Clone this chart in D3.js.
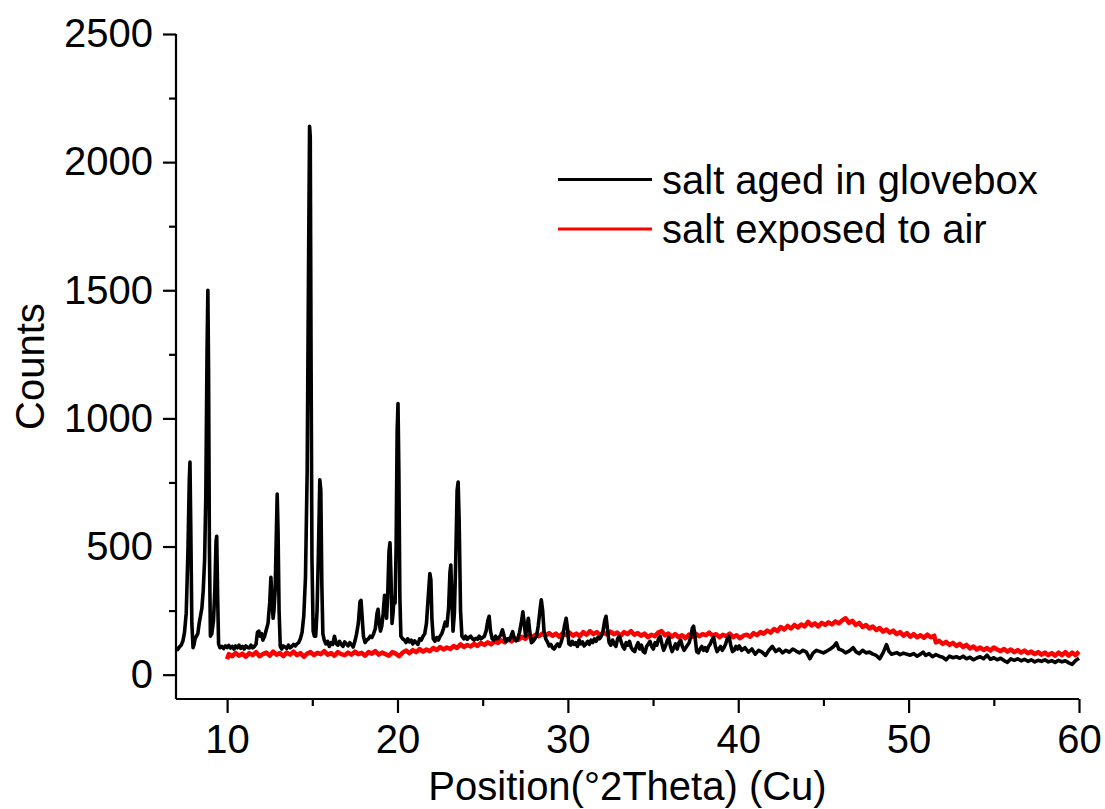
<!DOCTYPE html>
<html>
<head>
<meta charset="utf-8">
<script src="https://cdn.jsdelivr.net/npm/d3@7"></script>
<style>
  html, body { margin: 0; padding: 0; background: #fff; }
  svg { display: block; }
  text { font-family: "Liberation Sans", Arial, sans-serif; fill: #000; }
</style>
</head>
<body>
<svg id="chart" width="1105" height="809"></svg>
<script>
// ---------- data ----------
const xTicks = [10, 20, 30, 40, 50, 60];
const xMinorTicks = [15, 25, 35, 45, 55];
const yTicks = [0, 500, 1000, 1500, 2000, 2500];
const yMinorTicks = [250, 750, 1250, 1750, 2250];
const seriesNames = ["salt aged in glovebox", "salt exposed to air"];
const xLabel = "Position(°2Theta) (Cu)";
const yLabel = "Counts";

// salt aged in glovebox: [2Theta, counts]
const gloveboxData = [
[7.00,105],[7.10,98],[7.20,108],[7.30,115],[7.40,130],[7.50,165],[7.60,240],[7.70,480],[7.78,760],[7.82,830],[7.87,560],[7.93,200],
[8.00,105],[8.06,118],[8.12,140],[8.20,150],[8.28,160],[8.36,200],[8.44,230],[8.52,260],[8.60,330],[8.68,450],[8.75,700],[8.82,1250],
[8.87,1500],[8.91,1200],[8.96,500],[9.02,150],[9.10,160],[9.20,210],[9.28,330],[9.35,520],[9.39,540],[9.44,320],[9.50,120],[9.58,105],
[9.70,110],[9.80,102],[9.90,112],[10.00,106],[10.10,114],[10.20,104],[10.30,110],[10.40,100],[10.50,112],[10.60,105],[10.70,115],
[10.80,103],[10.90,110],[11.00,100],[11.10,112],[11.20,106],[11.30,104],[11.40,115],[11.50,105],[11.60,110],[11.70,120],[11.78,165],
[11.86,170],[11.94,150],[12.02,160],[12.10,135],[12.20,150],[12.30,175],[12.40,200],[12.50,280],[12.57,380],[12.63,300],[12.70,220],
[12.75,250],[12.82,330],[12.88,520],[12.94,705],[12.99,560],[13.05,250],[13.12,110],[13.20,100],[13.30,112],[13.40,108],[13.50,102],
[13.60,115],[13.70,105],[13.80,110],[13.90,118],[14.00,112],[14.10,120],[14.20,125],[14.30,140],[14.40,165],[14.50,230],[14.60,380],
[14.70,800],[14.78,1600],[14.84,2140],[14.88,2100],[14.93,1200],[14.98,450],[15.05,170],[15.12,150],[15.20,150],[15.28,250],[15.36,480],
[15.44,760],[15.50,720],[15.56,350],[15.62,160],[15.70,135],[15.80,120],[15.90,130],[16.00,110],[16.10,125],[16.20,118],[16.30,150],
[16.40,122],[16.50,115],[16.60,130],[16.70,118],[16.80,110],[16.90,128],[17.00,120],[17.10,112],[17.20,125],[17.30,118],[17.40,108],
[17.50,130],[17.60,160],[17.70,200],[17.80,285],[17.86,290],[17.92,230],[18.00,150],[18.10,125],[18.20,135],[18.30,140],[18.40,150],
[18.50,145],[18.60,160],[18.70,180],[18.80,240],[18.86,255],[18.93,200],[19.00,170],[19.08,190],[19.16,240],[19.24,310],[19.30,290],
[19.36,220],[19.42,300],[19.50,480],[19.56,515],[19.62,380],[19.68,200],[19.74,240],[19.80,300],[19.86,280],[19.92,500],[19.98,950],
[20.03,1058],[20.08,800],[20.14,300],[20.20,150],[20.30,140],[20.40,135],[20.50,125],[20.60,140],[20.70,128],[20.80,135],[20.90,120],
[21.00,132],[21.10,125],[21.20,118],[21.30,140],[21.40,135],[21.50,150],[21.60,160],[21.70,200],[21.80,300],[21.90,395],[21.96,370],
[22.02,220],[22.10,140],[22.20,130],[22.30,145],[22.40,135],[22.50,150],[22.60,160],[22.70,180],[22.80,205],[22.90,190],[23.00,260],
[23.08,400],[23.13,428],[23.20,280],[23.26,170],[23.34,240],[23.42,450],[23.50,720],[23.56,752],[23.62,600],[23.70,250],[23.78,150],
[23.90,140],[24.00,150],[24.10,138],[24.20,145],[24.30,150],[24.40,140],[24.50,135],[24.60,142],[24.70,138],[24.80,150],[24.90,140],
[25.00,145],[25.10,150],[25.20,170],[25.30,210],[25.38,228],[25.46,170],[25.56,140],[25.66,135],[25.76,150],[25.86,140],[25.96,145],
[26.06,155],[26.16,175],[26.26,150],[26.36,130],[26.46,140],[26.56,135],[26.66,150],[26.76,168],[26.86,140],[26.96,132],[27.06,140],
[27.16,165],[27.26,200],[27.36,245],[27.44,200],[27.52,150],[27.60,190],[27.68,220],[27.76,170],[27.86,125],[27.96,130],[28.06,140],
[28.16,150],[28.26,190],[28.36,250],[28.44,292],[28.52,250],[28.60,170],[28.70,140],[28.80,128],[28.90,112],[29.00,118],[29.10,105],
[29.20,100],[29.30,112],[29.40,120],[29.50,110],[29.60,125],[29.70,150],[29.80,190],[29.90,220],[29.98,180],[30.06,120],[30.16,115],
[30.26,130],[30.36,118],[30.46,125],[30.56,110],[30.66,135],[30.76,120],[30.86,128],[30.96,112],[31.06,120],[31.16,130],[31.26,118],
[31.36,135],[31.46,125],[31.56,140],[31.66,130],[31.76,145],[31.86,140],[31.96,150],[32.06,170],[32.16,210],[32.24,228],[32.32,180],
[32.42,125],[32.52,115],[32.62,135],[32.72,120],[32.82,110],[32.92,140],[33.02,150],[33.12,130],[33.22,110],[33.32,100],[33.42,125],
[33.52,115],[33.62,130],[33.72,105],[33.82,95],[33.92,90],[34.02,110],[34.12,125],[34.22,100],[34.32,115],[34.42,90],[34.52,85],
[34.62,110],[34.72,120],[34.82,130],[34.92,110],[35.02,100],[35.12,125],[35.22,115],[35.32,140],[35.42,150],[35.52,120],[35.62,95],
[35.72,110],[35.82,130],[35.92,145],[36.02,110],[36.12,90],[36.22,105],[36.32,120],[36.42,100],[36.52,125],[36.62,135],[36.72,110],
[36.82,95],[36.92,105],[37.02,115],[37.12,125],[37.22,150],[37.30,180],[37.38,189],[37.46,150],[37.56,90],[37.66,85],[37.76,100],
[37.86,110],[37.96,95],[38.06,105],[38.16,92],[38.26,110],[38.36,120],[38.46,135],[38.56,145],[38.66,110],[38.76,90],[38.86,100],
[38.96,110],[39.06,95],[39.16,105],[39.26,120],[39.36,140],[39.46,150],[39.56,115],[39.66,90],[39.76,95],[39.86,110],[39.96,100],
[40.06,112],[40.2,95],[40.4,105],[40.6,88],[40.8,100],[41.0,80],[41.2,95],[41.4,88],[41.6,75],[41.8,95],[42.0,110],[42.2,90],
[42.4,100],[42.6,85],[42.8,95],[43.0,88],[43.2,100],[43.4,92],[43.6,85],[43.8,95],[44.0,88],[44.2,62],[44.4,85],[44.6,95],[44.8,90],
[45.0,85],[45.2,92],[45.4,100],[45.6,110],[45.76,124],[45.9,100],[46.1,95],[46.3,85],[46.5,92],[46.75,105],[46.9,90],[47.1,82],
[47.3,95],[47.5,85],[47.7,88],[47.9,80],[48.1,75],[48.3,62],[48.5,85],[48.7,117],[48.85,90],[49.0,80],[49.3,86],[49.5,78],[49.7,84],
[49.9,80],[50.1,76],[50.3,82],[50.5,72],[50.7,80],[50.85,88],[51.0,75],[51.2,82],[51.4,70],[51.6,78],[51.8,72],[52.0,68],[52.2,58],
[52.4,72],[52.6,66],[52.8,70],[53.0,64],[53.2,72],[53.4,62],[53.6,68],[53.8,58],[54.0,65],[54.2,70],[54.4,62],[54.6,76],[54.8,60],
[55.0,66],[55.2,58],[55.4,64],[55.6,55],[55.8,48],[56.0,62],[56.2,56],[56.4,62],[56.6,54],[56.8,60],[57.0,52],[57.2,58],[57.4,50],
[57.6,56],[57.8,52],[58.0,58],[58.2,50],[58.4,55],[58.6,48],[58.8,56],[59.0,50],[59.2,54],[59.4,46],[59.6,40],[59.8,55],[60.0,64]
];

// salt exposed to air: [2Theta, counts]
const airData = [
[10.0,60],[10.1,80],[10.3,72],[10.5,85],[10.7,74],[10.9,82],[11.1,70],[11.3,84],[11.5,76],[11.7,88],[11.9,72],[12.1,80],[12.3,86],
[12.5,74],[12.7,90],[12.9,78],[13.1,84],[13.3,72],[13.5,86],[13.7,78],[13.9,90],[14.1,76],[14.3,84],[14.5,70],[14.7,82],[14.9,88],
[15.1,76],[15.3,85],[15.5,80],[15.7,92],[15.9,78],[16.1,84],[16.3,74],[16.5,88],[16.7,80],[16.9,76],[17.1,86],[17.3,78],[17.5,90],
[17.7,80],[17.9,85],[18.1,74],[18.3,88],[18.5,82],[18.7,92],[18.9,78],[19.1,86],[19.3,80],[19.5,74],[19.7,88],[19.9,82],[20.1,72],
[20.3,86],[20.5,94],[20.7,84],[20.9,96],[21.1,88],[21.3,100],[21.5,90],[21.7,98],[21.9,92],[22.1,104],[22.3,96],[22.5,108],[22.7,98],
[22.9,106],[23.1,100],[23.3,112],[23.5,104],[23.7,118],[23.9,108],[24.1,116],[24.3,110],[24.5,120],[24.7,112],[24.9,124],[25.1,116],
[25.3,126],[25.5,118],[25.7,130],[25.9,124],[26.1,134],[26.3,126],[26.5,138],[26.7,130],[26.9,142],[27.1,136],[27.3,148],[27.5,140],
[27.7,152],[27.9,146],[28.1,156],[28.3,150],[28.5,160],[28.7,152],[28.9,162],[29.1,152],[29.3,160],[29.5,148],[29.7,162],[29.9,154],
[30.1,164],[30.3,152],[30.5,160],[30.7,150],[30.9,166],[31.1,156],[31.3,170],[31.5,158],[31.7,166],[31.9,154],[32.1,164],[32.3,156],
[32.5,168],[32.7,158],[32.9,164],[33.1,152],[33.3,166],[33.5,158],[33.7,170],[33.9,156],[34.1,162],[34.3,152],[34.5,160],[34.7,146],
[34.9,156],[35.1,150],[35.3,164],[35.5,170],[35.7,154],[35.9,160],[36.1,148],[36.3,158],[36.5,146],[36.7,154],[36.9,142],[37.1,156],
[37.3,148],[37.5,160],[37.7,150],[37.9,158],[38.1,154],[38.3,164],[38.5,152],[38.7,158],[38.9,146],[39.1,156],[39.3,150],[39.5,160],
[39.7,146],[39.9,154],[40.1,142],[40.3,152],[40.5,156],[40.7,148],[40.9,162],[41.1,154],[41.3,166],[41.5,160],[41.7,172],[41.9,164],
[42.1,178],[42.3,170],[42.5,186],[42.7,176],[42.9,190],[43.1,180],[43.3,194],[43.5,184],[43.7,196],[43.9,188],[44.1,206],[44.3,192],
[44.5,200],[44.7,188],[44.9,202],[45.1,194],[45.3,204],[45.5,196],[45.7,208],[45.9,200],[46.1,212],[46.3,220],[46.5,202],[46.7,210],
[46.9,194],[47.1,202],[47.3,186],[47.5,194],[47.7,180],[47.9,188],[48.1,174],[48.3,182],[48.5,168],[48.7,176],[48.9,164],[49.1,172],
[49.3,158],[49.5,166],[49.7,152],[49.9,162],[50.1,148],[50.3,158],[50.5,146],[50.7,154],[50.9,144],[51.1,156],[51.3,146],[51.5,152],
[51.6,126],[51.8,132],[52.0,120],[52.2,128],[52.4,116],[52.6,124],[52.8,112],[53.0,120],[53.2,108],[53.4,116],[53.6,102],[53.8,110],
[54.0,98],[54.2,106],[54.4,96],[54.6,104],[54.8,94],[55.0,106],[55.2,98],[55.4,92],[55.6,100],[55.8,90],[56.0,98],[56.2,88],[56.4,96],
[56.6,86],[56.8,94],[57.0,84],[57.2,90],[57.4,80],[57.6,88],[57.8,78],[58.0,86],[58.2,76],[58.4,84],[58.6,74],[58.8,86],[59.0,76],
[59.2,88],[59.4,74],[59.6,86],[59.8,76],[60.0,90]
];

// ---------- chart ----------
const svg = d3.select("#chart");
const x = d3.scaleLinear().domain([7, 60]).range([176, 1079]);
const y = d3.scaleLinear().domain([-95, 2500]).range([699, 34]);

const fontSize = 40;

// data lines
const line = d3.line().x(d => x(d[0])).y(d => y(d[1]));
svg.append("path").datum(airData)
  .attr("d", line).attr("fill", "none").attr("stroke", "#ff0000")
  .attr("stroke-width", 4.5).attr("stroke-linejoin", "round");
svg.append("path").datum(gloveboxData)
  .attr("d", line).attr("fill", "none").attr("stroke", "#000")
  .attr("stroke-width", 3.6).attr("stroke-linejoin", "round");

// x axis
const xAxisG = svg.append("g").attr("transform", `translate(0,${y(-95)})`);
xAxisG.call(d3.axisBottom(x).tickValues(xTicks).tickSize(14).tickPadding(12).tickFormat(d3.format("d")));
const xMinorG = svg.append("g").attr("transform", `translate(0,${y(-95)})`);
xMinorG.call(d3.axisBottom(x).tickValues(xMinorTicks).tickSize(7).tickFormat(""));
xMinorG.select(".domain").remove();

// y axis
const yAxisG = svg.append("g").attr("transform", `translate(${x(7)},0)`);
yAxisG.call(d3.axisLeft(y).tickValues(yTicks).tickSize(13).tickPadding(10).tickFormat(d3.format("d")));
const yMinorG = svg.append("g").attr("transform", `translate(${x(7)},0)`);
yMinorG.call(d3.axisLeft(y).tickValues(yMinorTicks).tickSize(7).tickFormat(""));
yMinorG.select(".domain").remove();

[xAxisG, xMinorG, yAxisG, yMinorG].forEach(g => {
  g.selectAll("path.domain").attr("stroke", "#000").attr("stroke-width", 2.2);
  g.selectAll(".tick line").attr("stroke", "#000").attr("stroke-width", 2.2);
  g.selectAll(".tick text")
    .attr("font-family", "'Liberation Sans', Arial, sans-serif")
    .attr("font-size", fontSize).attr("fill", "#000");
});
xAxisG.select(".domain").attr("d", `M${x(7)},0H${x(60)}`);
yAxisG.select(".domain").attr("d", `M0,${y(-95)}V${y(2500)}`);

// axis titles
svg.append("text")
  .attr("x", (x(7) + x(60)) / 2).attr("y", 800)
  .attr("text-anchor", "middle").attr("font-size", fontSize)
  .text(xLabel);
svg.append("text")
  .attr("transform", `translate(44,${(y(-95) + y(2500)) / 2}) rotate(-90)`)
  .attr("text-anchor", "middle").attr("font-size", fontSize)
  .text(yLabel);

// legend
const legendColors = ["#000", "#ff0000"];
const legend = svg.append("g");
seriesNames.forEach((name, i) => {
  const ly = 179.5 + i * 49.5;
  legend.append("line")
    .attr("x1", 558).attr("x2", 652).attr("y1", ly).attr("y2", ly)
    .attr("stroke", legendColors[i]).attr("stroke-width", 3);
  legend.append("text")
    .attr("x", 662).attr("y", ly + 14)
    .attr("font-size", fontSize)
    .text(name);
});
</script>
</body>
</html>
